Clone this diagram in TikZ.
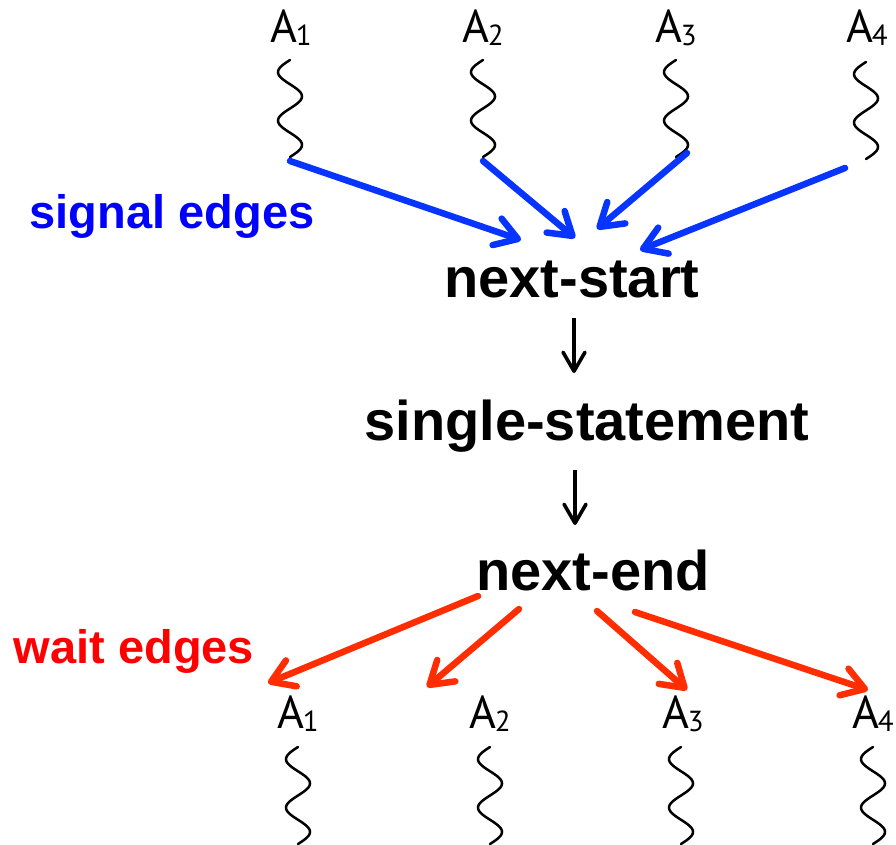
\documentclass[tikz,border=0pt]{standalone}
\usepackage{fontspec}
\setmainfont{Liberation Sans}
\newfontfamily\agentfont{PT Sans}
\usetikzlibrary{arrows.meta,calc}

\definecolor{sigblue}{RGB}{8,52,255}
\definecolor{sigtext}{RGB}{0,0,255}
\definecolor{waitred}{RGB}{255,45,0}
\definecolor{waittext}{RGB}{255,0,0}

% agent name with its small index
\newcommand{\agent}[1]{{\agentfont\fontsize{46}{50}\selectfont A\kern-1.5pt\raisebox{-3pt}{\fontsize{29}{29}\selectfont #1}}}
% wavy thread hanging below a label
\newcommand{\thread}[2]{\draw[wavy, shift={(#1)}] plot[domain=0:720, samples=73, smooth] ({-12*sin(\x)}, {\x*0.13472}) coordinate (#2);}

\tikzset{
  agentlabel/.style={anchor=base, inner sep=0pt},
  stage/.style={anchor=base, inner sep=0pt, font=\fontsize{56}{60}\selectfont\bfseries},
  edgelabel/.style={anchor=base, inner sep=0pt, font=\fontsize{47}{50}\selectfont\bfseries},
  wavy/.style={line width=2.5pt, line cap=round},
  flow/.style={-{Straight Barb[length=19pt,width=22pt,round]}, line width=3.6pt},
  signal/.style={-{Straight Barb[length=22pt,width=28pt,round]}, line width=6.5pt, line cap=round, sigblue},
  wait/.style={-{Straight Barb[length=22pt,width=28pt,round]}, line width=6.5pt, line cap=round, waitred}
}

\begin{document}
\begin{tikzpicture}[x=1pt, y=-1pt]
    \useasboundingbox (0,0) rectangle (896,844);

    %Agentes arriba
    \node[agentlabel] (a1) at (291,42) {\agent{1}};
    \node[agentlabel] (a2) at (483,42) {\agent{2}};
    \node[agentlabel] (a3) at (676,42) {\agent{3}};
    \node[agentlabel] (a4) at (867,42) {\agent{4}};

    \coordinate (w1) at (290,60);
    \coordinate (w2) at (483,60);
    \coordinate (w3) at (676,60);
    \coordinate (w4) at (866,62);
    \thread{w1}{z1}
    \thread{w2}{z2}
    \thread{w3}{z3}
    \thread{w4}{z4}

    %Etapas
    \node[stage] (start) at (572,297) {next-start};
    \node[stage] (single) at (587,440) {single-statement};
    \node[stage] (end) at (593,590) {next-end};

    \node[edgelabel, text=sigtext] (sig) at (172,228) {signal edges};
    \node[edgelabel, text=waittext] (wt) at (134,663) {wait edges};

    %Aristas de senal
    \draw[signal] ($(z1)+(0,4)$) -- ($(start.base)+(-51,-57)$);
    \draw[signal] ($(z2)+(0,4)$) -- ($(start.base)+(3,-59)$);
    \draw[signal] ($(z3)+(11,-4)$) -- ($(start.base)+(25,-68)$);
    \draw[signal] ($(z4)+(-21,9)$) -- ($(start.base)+(68,-47)$);

    %Flechas negras
    \draw[flow] ($(start.base)+(2,21)$) -- ($(single.base)+(-13,-67)$);
    \draw[flow] ($(single.base)+(-12,30)$) -- ($(end.base)+(-18,-65)$);

    %Agentes abajo
    \node[agentlabel] (b1) at (298,728) {\agent{1}};
    \node[agentlabel] (b2) at (490,728) {\agent{2}};
    \node[agentlabel] (b3) at (683,728) {\agent{3}};
    \node[agentlabel] (b4) at (873,728) {\agent{4}};

    \coordinate (v1) at (298,747);
    \coordinate (v2) at (490,747);
    \coordinate (v3) at (681,747);
    \coordinate (v4) at (873,747);
    \thread{v1}{y1}
    \thread{v2}{y2}
    \thread{v3}{y3}
    \thread{v4}{y4}

    %Aristas de espera
    \draw[wait] ($(end.base)+(-115,6)$) -- ($(b1.base)+(-30,-45)$);
    \draw[wait] ($(end.base)+(-74,19)$) -- ($(b2.base)+(-63,-41)$);
    \draw[wait] ($(end.base)+(4,21)$) -- ($(b3.base)+(4,-38)$);
    \draw[wait] ($(end.base)+(42,22)$) -- ($(b4.base)+(-5,-38)$);
\end{tikzpicture}
\end{document}
